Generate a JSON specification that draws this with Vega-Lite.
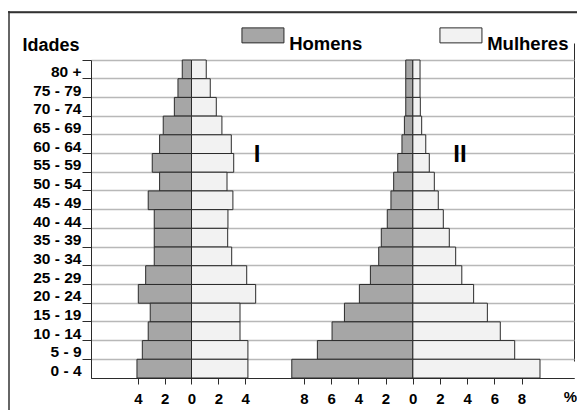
{
  "$schema": "https://vega.github.io/schema/vega-lite/v6.json",
  "width": 569,
  "height": 399,
  "autosize": {"type": "none"},
  "padding": {"left": 8, "top": 11, "right": 0, "bottom": 0},
  "background": "white",
  "config": {
    "font": "Liberation Sans",
    "view": {"stroke": null}
  },
  "data": {
    "values": [
      {"p": "I", "sex": "Homens", "age": "80 +", "pct": 0.69},
      {"p": "I", "sex": "Homens", "age": "75 - 79", "pct": 1.01},
      {"p": "I", "sex": "Homens", "age": "70 - 74", "pct": 1.28},
      {"p": "I", "sex": "Homens", "age": "65 - 69", "pct": 2.11},
      {"p": "I", "sex": "Homens", "age": "60 - 64", "pct": 2.38},
      {"p": "I", "sex": "Homens", "age": "55 - 59", "pct": 2.93},
      {"p": "I", "sex": "Homens", "age": "50 - 54", "pct": 2.38},
      {"p": "I", "sex": "Homens", "age": "45 - 49", "pct": 3.23},
      {"p": "I", "sex": "Homens", "age": "40 - 44", "pct": 2.78},
      {"p": "I", "sex": "Homens", "age": "35 - 39", "pct": 2.78},
      {"p": "I", "sex": "Homens", "age": "30 - 34", "pct": 2.78},
      {"p": "I", "sex": "Homens", "age": "25 - 29", "pct": 3.42},
      {"p": "I", "sex": "Homens", "age": "20 - 24", "pct": 3.97},
      {"p": "I", "sex": "Homens", "age": "15 - 19", "pct": 3.08},
      {"p": "I", "sex": "Homens", "age": "10 - 14", "pct": 3.23},
      {"p": "I", "sex": "Homens", "age": "5 - 9", "pct": 3.67},
      {"p": "I", "sex": "Homens", "age": "0 - 4", "pct": 4.07},
      {"p": "I", "sex": "Mulheres", "age": "80 +", "pct": 1.10},
      {"p": "I", "sex": "Mulheres", "age": "75 - 79", "pct": 1.40},
      {"p": "I", "sex": "Mulheres", "age": "70 - 74", "pct": 1.85},
      {"p": "I", "sex": "Mulheres", "age": "65 - 69", "pct": 2.27},
      {"p": "I", "sex": "Mulheres", "age": "60 - 64", "pct": 2.97},
      {"p": "I", "sex": "Mulheres", "age": "55 - 59", "pct": 3.15},
      {"p": "I", "sex": "Mulheres", "age": "50 - 54", "pct": 2.65},
      {"p": "I", "sex": "Mulheres", "age": "45 - 49", "pct": 3.09},
      {"p": "I", "sex": "Mulheres", "age": "40 - 44", "pct": 2.72},
      {"p": "I", "sex": "Mulheres", "age": "35 - 39", "pct": 2.70},
      {"p": "I", "sex": "Mulheres", "age": "30 - 34", "pct": 3.00},
      {"p": "I", "sex": "Mulheres", "age": "25 - 29", "pct": 4.12},
      {"p": "I", "sex": "Mulheres", "age": "20 - 24", "pct": 4.79},
      {"p": "I", "sex": "Mulheres", "age": "15 - 19", "pct": 3.62},
      {"p": "I", "sex": "Mulheres", "age": "10 - 14", "pct": 3.62},
      {"p": "I", "sex": "Mulheres", "age": "5 - 9", "pct": 4.21},
      {"p": "I", "sex": "Mulheres", "age": "0 - 4", "pct": 4.21},
      {"p": "II", "sex": "Homens", "age": "80 +", "pct": 0.51},
      {"p": "II", "sex": "Homens", "age": "75 - 79", "pct": 0.51},
      {"p": "II", "sex": "Homens", "age": "70 - 74", "pct": 0.51},
      {"p": "II", "sex": "Homens", "age": "65 - 69", "pct": 0.61},
      {"p": "II", "sex": "Homens", "age": "60 - 64", "pct": 0.79},
      {"p": "II", "sex": "Homens", "age": "55 - 59", "pct": 1.10},
      {"p": "II", "sex": "Homens", "age": "50 - 54", "pct": 1.40},
      {"p": "II", "sex": "Homens", "age": "45 - 49", "pct": 1.60},
      {"p": "II", "sex": "Homens", "age": "40 - 44", "pct": 1.87},
      {"p": "II", "sex": "Homens", "age": "35 - 39", "pct": 2.31},
      {"p": "II", "sex": "Homens", "age": "30 - 34", "pct": 2.50},
      {"p": "II", "sex": "Homens", "age": "25 - 29", "pct": 3.11},
      {"p": "II", "sex": "Homens", "age": "20 - 24", "pct": 3.92},
      {"p": "II", "sex": "Homens", "age": "15 - 19", "pct": 5.02},
      {"p": "II", "sex": "Homens", "age": "10 - 14", "pct": 5.93},
      {"p": "II", "sex": "Homens", "age": "5 - 9", "pct": 7.01},
      {"p": "II", "sex": "Homens", "age": "0 - 4", "pct": 8.89},
      {"p": "II", "sex": "Mulheres", "age": "80 +", "pct": 0.54},
      {"p": "II", "sex": "Mulheres", "age": "75 - 79", "pct": 0.54},
      {"p": "II", "sex": "Mulheres", "age": "70 - 74", "pct": 0.56},
      {"p": "II", "sex": "Mulheres", "age": "65 - 69", "pct": 0.66},
      {"p": "II", "sex": "Mulheres", "age": "60 - 64", "pct": 0.96},
      {"p": "II", "sex": "Mulheres", "age": "55 - 59", "pct": 1.22},
      {"p": "II", "sex": "Mulheres", "age": "50 - 54", "pct": 1.59},
      {"p": "II", "sex": "Mulheres", "age": "45 - 49", "pct": 1.88},
      {"p": "II", "sex": "Mulheres", "age": "40 - 44", "pct": 2.25},
      {"p": "II", "sex": "Mulheres", "age": "35 - 39", "pct": 2.69},
      {"p": "II", "sex": "Mulheres", "age": "30 - 34", "pct": 3.16},
      {"p": "II", "sex": "Mulheres", "age": "25 - 29", "pct": 3.61},
      {"p": "II", "sex": "Mulheres", "age": "20 - 24", "pct": 4.48},
      {"p": "II", "sex": "Mulheres", "age": "15 - 19", "pct": 5.49},
      {"p": "II", "sex": "Mulheres", "age": "10 - 14", "pct": 6.44},
      {"p": "II", "sex": "Mulheres", "age": "5 - 9", "pct": 7.50},
      {"p": "II", "sex": "Mulheres", "age": "0 - 4", "pct": 9.36}
    ]
  },
  "resolve": {"scale": {"x": "independent"}, "axis": {"x": "independent"}},
  "layer": [
    {
      "transform": [{"filter": "datum.p === 'I' && datum.sex === 'Mulheres'"}],
      "mark": {"type": "bar", "stroke": "#2b2b2b", "strokeWidth": 1},
      "encoding": {
        "y": {
          "field": "age",
          "type": "nominal",
          "scale": {
            "domain": ["80 +", "75 - 79", "70 - 74", "65 - 69", "60 - 64", "55 - 59", "50 - 54", "45 - 49", "40 - 44", "35 - 39", "30 - 34", "25 - 29", "20 - 24", "15 - 19", "10 - 14", "5 - 9", "0 - 4"],
            "range": [49, 367],
            "paddingInner": 0,
            "paddingOuter": 0
          },
          "axis": {
            "orient": "left",
            "offset": -83,
            "bandPosition": 0,
            "labelOffset": 2.5,
            "tickSize": 9,
            "tickColor": "#2b2b2b",
            "domainColor": "#2b2b2b",
            "labelPadding": 1,
            "labelFontSize": 15.5,
            "labelFontWeight": "bold",
            "labelColor": "black",
            "labelBaseline": "middle",
            "grid": true,
            "gridColor": "#b8b8b8",
            "gridWidth": 1.5,
            "title": "Idades",
            "titleAngle": 0,
            "titleX": -69,
            "titleY": 39,
            "titleAlign": "left",
            "titleBaseline": "alphabetic",
            "titleFontSize": 18,
            "titleFontWeight": "bold",
            "titleColor": "black"
          }
        },
        "fill": {
          "field": "sex",
          "type": "nominal",
          "scale": {"domain": ["Homens", "Mulheres"], "range": ["#a6a6a6", "#f2f2f2"]},
          "legend": {
            "orient": "none",
            "legendX": 245.7,
            "legendY": 15,
            "direction": "horizontal",
            "title": null,
            "padding": 0,
            "symbolType": "M-2.8,-1H2.8V1H-2.8Z",
            "symbolSize": 225,
            "symbolStrokeColor": "#2b2b2b",
            "symbolStrokeWidth": 1,
            "labelFontSize": 18.5,
            "labelFontWeight": "bold",
            "labelColor": "black",
            "labelBaseline": "top",
            "labelOffset": 17,
            "columnPadding": 75
          }
        },
        "x": {
          "field": "pct",
          "type": "quantitative",
          "scale": {"domain": [-7.5, 28.545], "range": [83, 566], "nice": false, "zero": false},
          "axis": {
            "orient": "bottom",
            "offset": -32,
            "values": [-4, -2, 0, 2, 4],
            "labelExpr": "abs(datum.value)",
            "grid": false,
            "domain": true,
            "domainColor": "#2b2b2b",
            "tickColor": "#2b2b2b",
            "tickSize": 6,
            "labelPadding": 7,
            "labelFontSize": 15,
            "labelFontWeight": "bold",
            "labelColor": "black",
            "title": null
          }
        }
      }
    },
    {
      "transform": [{"filter": "datum.p === 'I' && datum.sex === 'Homens'"}],
      "mark": {"type": "bar", "stroke": "#2b2b2b", "strokeWidth": 1},
      "encoding": {
        "y": {"field": "age", "type": "nominal"},
        "fill": {"field": "sex", "type": "nominal"},
        "x": {
          "field": "pct",
          "type": "quantitative",
          "scale": {"domain": [-28.545, 7.5], "range": [83, 566], "reverse": true, "nice": false, "zero": false},
          "axis": null
        }
      }
    },
    {
      "transform": [{"filter": "datum.p === 'II' && datum.sex === 'Mulheres'"}],
      "mark": {"type": "bar", "stroke": "#2b2b2b", "strokeWidth": 1},
      "encoding": {
        "y": {"field": "age", "type": "nominal"},
        "fill": {"field": "sex", "type": "nominal"},
        "x": {
          "field": "pct",
          "type": "quantitative",
          "scale": {"domain": [-23.654, 11.86], "range": [83, 566], "nice": false, "zero": false},
          "axis": {
            "orient": "bottom",
            "offset": -32,
            "values": [-8, -6, -4, -2, 0, 2, 4, 6, 8, 11.85],
            "labelExpr": "datum.value > 10 ? '' : abs(datum.value)",
            "grid": true,
            "gridColor": "#2b2b2b",
            "gridWidth": 1,
            "gridOpacity": {"condition": {"test": "datum.value > 10", "value": 1}, "value": 0},
            "tickOpacity": {"condition": {"test": "datum.value > 10", "value": 0}, "value": 1},
            "domain": true,
            "domainColor": "#2b2b2b",
            "tickColor": "#2b2b2b",
            "tickSize": 6,
            "labelPadding": 7,
            "labelFontSize": 15,
            "labelFontWeight": "bold",
            "labelColor": "black",
            "title": "%",
            "titleX": 562,
            "titleY": 23,
            "titleAlign": "center",
            "titleBaseline": "alphabetic",
            "titleFontSize": 15,
            "titleFontWeight": "bold",
            "titleColor": "black"
          }
        }
      }
    },
    {
      "transform": [{"filter": "datum.p === 'II' && datum.sex === 'Homens'"}],
      "mark": {"type": "bar", "stroke": "#2b2b2b", "strokeWidth": 1},
      "encoding": {
        "y": {"field": "age", "type": "nominal"},
        "fill": {"field": "sex", "type": "nominal"},
        "x": {
          "field": "pct",
          "type": "quantitative",
          "scale": {"domain": [-11.86, 23.654], "range": [83, 566], "reverse": true, "nice": false, "zero": false},
          "axis": null
        }
      }
    },
    {
      "data": {"values": [{"t": "I"}]},
      "mark": {"type": "text", "fontSize": 24, "fontWeight": "bold", "baseline": "middle", "align": "center", "dy": -8, "fill": "black"},
      "encoding": {
        "text": {"field": "t"},
        "x": {"datum": 4.89, "type": "quantitative", "scale": {"domain": [-7.5, 28.545], "range": [83, 566], "nice": false, "zero": false}, "axis": null},
        "y": {"datum": "55 - 59", "type": "nominal"}
      }
    },
    {
      "data": {"values": [{"t": "II"}]},
      "mark": {"type": "text", "fontSize": 24, "fontWeight": "bold", "baseline": "middle", "align": "center", "dy": -8, "fill": "black"},
      "encoding": {
        "text": {"field": "t"},
        "x": {"datum": 3.48, "type": "quantitative", "scale": {"domain": [-23.654, 11.86], "range": [83, 566], "nice": false, "zero": false}, "axis": null},
        "y": {"datum": "55 - 59", "type": "nominal"}
      }
    },
    {
      "data": {"values": [{"f": "moldura"}]},
      "mark": {"type": "rule", "stroke": "#333333", "strokeWidth": 1.5},
      "encoding": {
        "detail": {"field": "f", "type": "nominal"},
        "x": {
          "datum": 0, "type": "quantitative",
          "scale": {"domain": [-1, 568], "nice": false, "zero": false},
          "axis": {"orient": "top", "offset": -1, "domain": true, "domainColor": "#333333", "domainWidth": 1.5, "ticks": false, "labels": false, "grid": false, "title": null}
        }
      }
    },
    {
      "data": {"values": [{"f": "moldura"}]},
      "mark": {"type": "rule", "stroke": "#333333", "strokeWidth": 1.5},
      "encoding": {
        "detail": {"field": "f", "type": "nominal"},
        "y": {"datum": "80 +", "type": "nominal", "bandPosition": -2.566}
      }
    }
  ]
}
